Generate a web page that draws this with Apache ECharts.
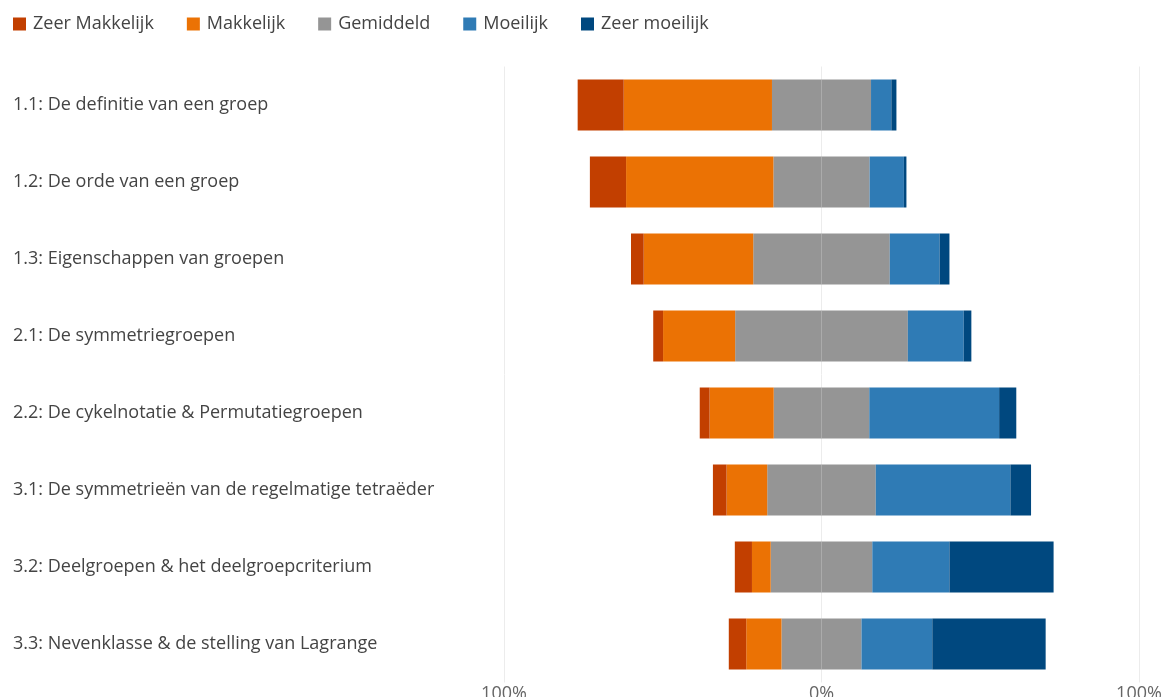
<!DOCTYPE html>
<html>
<head>
<meta charset="utf-8">
<script src="https://cdn.jsdelivr.net/npm/echarts@6/dist/echarts.min.js"></script>
<style>
html,body{margin:0;padding:0;background:#fff;}
#chart{width:1163px;height:697px;}
</style>
</head>
<body>
<div id="chart"></div>
<script>
var categories = [
  '1.1: De definitie van een groep',
  '1.2: De orde van een groep',
  '1.3: Eigenschappen van groepen',
  '2.1: De symmetriegroepen',
  '2.2: De cykelnotatie & Permutatiegroepen',
  '3.1: De symmetrieën van de regelmatige tetraëder',
  '3.2: Deelgroepen & het deelgroepcriterium',
  '3.3: Nevenklasse & de stelling van Lagrange'
];
var zeerMakkelijk = [14.5, 11.4, 4.0, 3.1, 3.1, 4.3, 5.4, 5.5];
var makkelijk     = [46.7, 46.4, 34.5, 22.7, 20.2, 12.8, 5.9, 11.1];
var gemiddeld     = [31.2, 30.3, 43.0, 54.4, 30.1, 34.2, 32.0, 25.2];
var moeilijk      = [6.4, 10.8, 15.7, 17.6, 40.9, 42.4, 24.3, 22.3];
var zeerMoeilijk  = [1.6, 0.8, 3.1, 2.4, 5.4, 6.5, 32.8, 35.7];
var axisTicks = [-100, 0, 100];

var colors = {
  zm: '#C23F00', m: '#EB7204', g: '#959595', mo: '#2F7BB5', zmo: '#00487F'
};
var FONT = '"Open Sans", "Noto Sans", sans-serif';

function neg(arr, f) { return arr.map(function (v) { return -v * f; }); }
function pos(arr, f) { return arr.map(function (v) { return v * f; }); }

function bar(name, data, color) {
  return {
    name: name, type: 'bar', stack: 'total', barWidth: 51,
    data: data, itemStyle: { color: color }, emphasis: { disabled: true }
  };
}

var chart = echarts.init(document.getElementById('chart'));
chart.setOption({
  animation: false,
  legend: {
    data: ['Zeer Makkelijk', 'Makkelijk', 'Gemiddeld', 'Moeilijk', 'Zeer moeilijk'],
    left: 8, top: 10,
    itemWidth: 13, itemHeight: 13, itemGap: 33,
    icon: 'rect',
    textStyle: { fontFamily: FONT, fontSize: 18, color: '#444', padding: [0, 0, 0, 2] }
  },
  grid: { left: 504, right: 24, top: 66.5, bottom: 14.5, outerBoundsMode: 'none', containLabel: false },
  xAxis: {
    type: 'value', min: -100, max: 100, interval: 100,
    axisLine: { show: false }, axisTick: { show: false },
    splitLine: { show: true, lineStyle: { color: '#ececec', width: 1 } },
    axisLabel: {
      fontFamily: FONT, fontSize: 18, color: '#666', margin: 2,
      showMinLabel: true, showMaxLabel: true,
      formatter: function (v) { return axisTicks.indexOf(v) >= 0 ? Math.abs(v) + '%' : ''; }
    }
  },
  yAxis: {
    type: 'category', inverse: true, data: categories,
    axisLine: { show: false }, axisTick: { show: false },
    axisLabel: { fontFamily: FONT, fontSize: 18, color: '#444', align: 'left', margin: 491 }
  },
  series: [
    bar('Gemiddeld', neg(gemiddeld, 0.5), colors.g),
    bar('Makkelijk', neg(makkelijk, 1), colors.m),
    bar('Zeer Makkelijk', neg(zeerMakkelijk, 1), colors.zm),
    bar('Gemiddeld', pos(gemiddeld, 0.5), colors.g),
    bar('Moeilijk', pos(moeilijk, 1), colors.mo),
    bar('Zeer moeilijk', pos(zeerMoeilijk, 1), colors.zmo)
  ]
});
</script>
</body>
</html>
